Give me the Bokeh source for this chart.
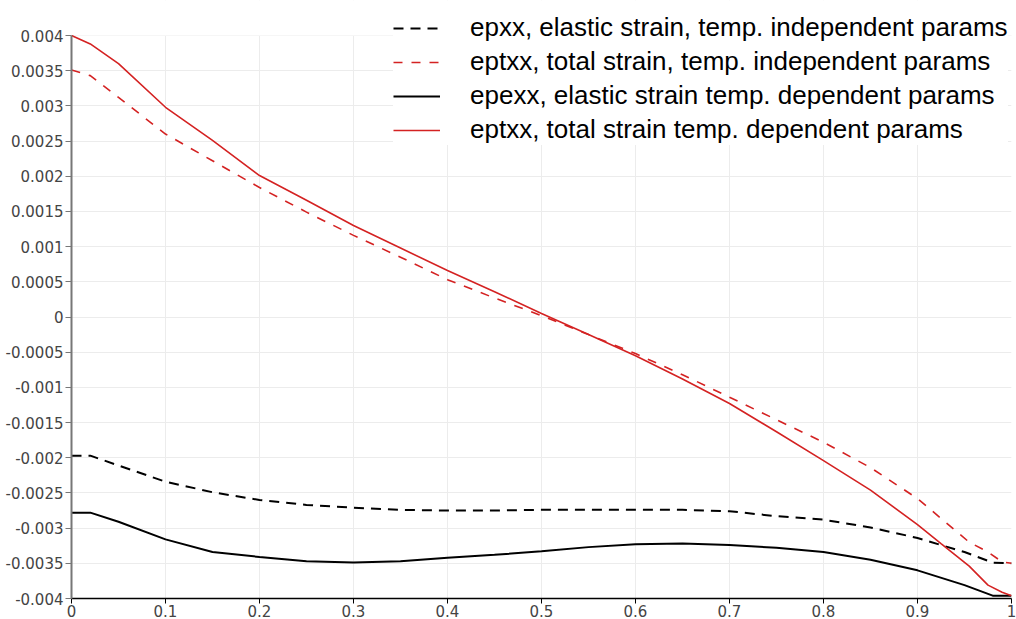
from bokeh.plotting import figure
from bokeh.models import Legend, LegendItem, FixedTicker, BoxAnnotation
from bokeh.embed import file_html
from bokeh.resources import INLINE

# Position along the bar (normalised) and strain values for each series
x_red_dep = [0, 0.02, 0.05, 0.1, 0.15, 0.2, 0.25, 0.3, 0.35, 0.4, 0.45, 0.5, 0.55,
             0.6, 0.65, 0.7, 0.75, 0.8, 0.85, 0.9, 0.925, 0.955, 0.975, 0.99, 1.0]
eptxx_dep = [0.004, 0.00388, 0.0036, 0.00298, 0.00251, 0.00201, 0.00166, 0.0013,
             0.00098, 0.00066, 0.00036, 0.00005, -0.00025, -0.00055, -0.00088,
             -0.00123, -0.00163, -0.00204, -0.00246, -0.00295, -0.00322, -0.00354,
             -0.00381, -0.00391, -0.00396]

x_red_ind = [0, 0.02, 0.05, 0.1, 0.15, 0.2, 0.25, 0.3, 0.35, 0.4, 0.45, 0.5, 0.55,
             0.6, 0.65, 0.7, 0.75, 0.8, 0.85, 0.9, 0.955, 0.975, 0.99, 1.0]
eptxx_ind = [0.00351, 0.00343, 0.00312, 0.0026, 0.00222, 0.00184, 0.00149, 0.00116,
             0.00085, 0.00053, 0.00027, 0.00002, -0.00025, -0.00052, -0.00082,
             -0.00114, -0.00146, -0.00178, -0.00214, -0.00258, -0.0032, -0.00334,
             -0.00348, -0.0035]

x_black = [0, 0.02, 0.05, 0.1, 0.15, 0.2, 0.25, 0.3, 0.35, 0.4, 0.45, 0.5, 0.55,
           0.6, 0.65, 0.7, 0.75, 0.8, 0.85, 0.9, 0.95, 0.98, 1.0]
epxx_ind = [-0.00197, -0.00197, -0.00211, -0.00234, -0.00249, -0.0026, -0.00267,
            -0.00271, -0.00274, -0.00275, -0.00275, -0.00274, -0.00274, -0.00274,
            -0.00274, -0.00276, -0.00283, -0.00288, -0.00299, -0.00314, -0.00334,
            -0.00349, -0.0035]
epexx_dep = [-0.00278, -0.00278, -0.00291, -0.00316, -0.00334, -0.00341, -0.00347,
             -0.00349, -0.00347, -0.00342, -0.00338, -0.00333, -0.00327, -0.00323,
             -0.00322, -0.00324, -0.00328, -0.00334, -0.00345, -0.0036, -0.00381,
             -0.00396, -0.00396]

x_ticks = [0, 0.1, 0.2, 0.3, 0.4, 0.5, 0.6, 0.7, 0.8, 0.9, 1.0]
x_tick_labels = ["0", "0.1", "0.2", "0.3", "0.4", "0.5", "0.6", "0.7", "0.8", "0.9", "1"]
y_ticks = [0.004, 0.0035, 0.003, 0.0025, 0.002, 0.0015, 0.001, 0.0005, 0.0,
           -0.0005, -0.001, -0.0015, -0.002, -0.0025, -0.003, -0.0035, -0.004]
y_tick_labels = ["0.004", "0.0035", "0.003", "0.0025", "0.002", "0.0015", "0.001",
                 "0.0005", "0", "-0.0005", "-0.001", "-0.0015", "-0.002", "-0.0025",
                 "-0.003", "-0.0035", "-0.004"]

legend_labels = ["epxx, elastic strain, temp. independent params",
                 "eptxx, total strain, temp. independent params",
                 "epexx, elastic strain temp. dependent params",
                 "eptxx, total strain temp. dependent params"]

Y_MIN, Y_MAX = -0.004, 0.004
# extra headroom above the data so the legend can sit over the top edge
Y_TOP = Y_MAX + (Y_MAX - Y_MIN) * 35 / 563

RED = "#d42222"
LEGEND_FONT = "Liberation Sans"
TICK_FONT = "DejaVu Sans"

p = figure(width=1016, height=619, output_backend="svg", toolbar_location=None,
           x_range=(0, 1), y_range=(Y_MIN, Y_TOP),
           min_border_left=71, min_border_right=5, min_border_top=0,
           min_border_bottom=21)
p.outline_line_color = None

r1 = p.line(x_black, epxx_ind, line_color="black", line_width=2, line_dash="10 7")
r2 = p.line(x_red_ind, eptxx_ind, line_color=RED, line_width=1.6, line_dash="9 9")
r3 = p.line(x_black, epexx_dep, line_color="black", line_width=2)
r4 = p.line(x_red_dep, eptxx_dep, line_color=RED, line_width=1.6)

# blank strip above the top tick so grid lines stop at the axis end
p.add_layout(BoxAnnotation(bottom=Y_MAX, fill_color="white", fill_alpha=1.0,
                           line_color=None, level="underlay"))

# axes
p.xaxis.ticker = FixedTicker(ticks=x_ticks)
p.yaxis.ticker = FixedTicker(ticks=y_ticks)
p.xaxis.major_label_overrides = {t: s for t, s in zip(x_ticks, x_tick_labels)}
p.yaxis.major_label_overrides = {t: s for t, s in zip(y_ticks, y_tick_labels)}
p.yaxis.bounds = (Y_MIN, Y_MAX)
for ax in (p.xaxis[0], p.yaxis[0]):
    ax.minor_tick_line_color = None
    ax.major_tick_in = 0
    ax.major_label_text_font = TICK_FONT
    ax.major_label_text_font_size = "15px"
    ax.major_label_text_color = "#444444"
p.xaxis.axis_line_color = "black"
p.xaxis.axis_line_width = 1.5
p.xaxis.major_tick_out = 5
p.xaxis.major_tick_line_color = "black"
p.xaxis.major_label_standoff = 1
p.yaxis.axis_line_color = "#777777"
p.yaxis.axis_line_width = 2
p.yaxis.major_tick_out = 6
p.yaxis.major_tick_line_color = "#777777"
p.yaxis.major_label_standoff = 2

p.xgrid.grid_line_color = "#ececec"
p.ygrid.grid_line_color = "#ececec"

legend = Legend(
    items=[LegendItem(label=s, renderers=[r]) for s, r in zip(legend_labels, [r1, r2, r3, r4])],
    location=(322, 453),
    padding=8, margin=0, spacing=3,
    glyph_width=47, glyph_height=30, label_height=30, label_standoff=30,
    label_text_font=LEGEND_FONT, label_text_font_size="26px", label_text_color="black",
    border_line_color=None, background_fill_color="white", background_fill_alpha=1.0,
)
p.add_layout(legend, "center")

open("out.html", "w").write(file_html(p, INLINE))
